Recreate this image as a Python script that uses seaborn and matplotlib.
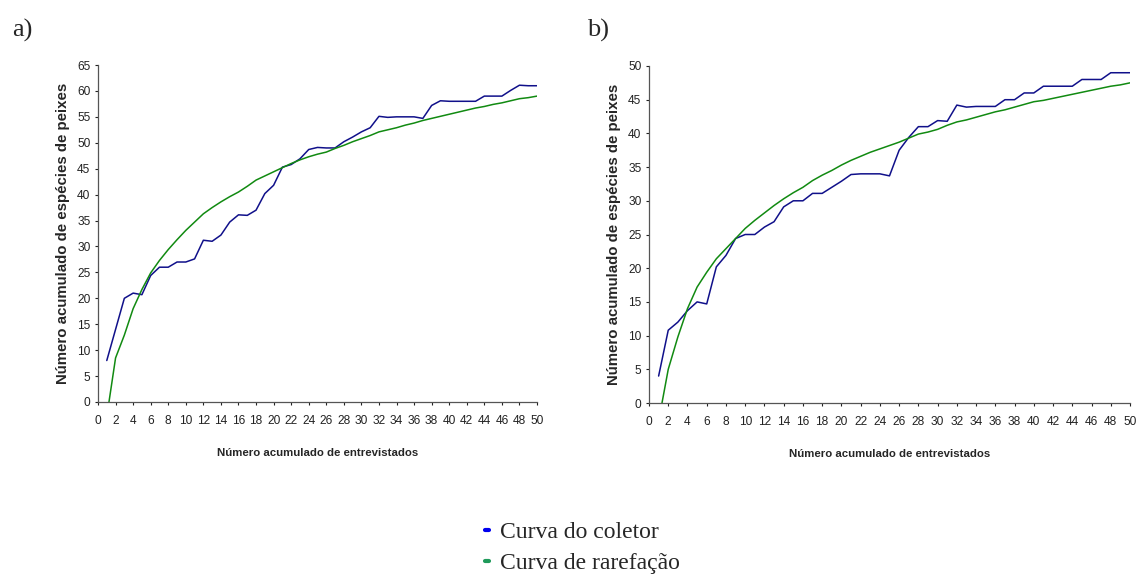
import numpy as np
import pandas as pd
import matplotlib
matplotlib.use("Agg")
import matplotlib.pyplot as plt
from matplotlib.lines import Line2D
import seaborn as sns

# Panel a) - species accumulation
a_x_coletor = list(range(1, 51))
a_coletor = [8, 14, 20, 21, 20.7, 24.4, 26, 26, 27, 27,
             27.6, 31.2, 31, 32.2, 34.7, 36.1, 36, 37, 40.2, 41.8,
             45.3, 45.8, 46.9, 48.7, 49.1, 49, 49, 50.2, 51.1, 52.1,
             52.9, 55.1, 54.9, 55, 55, 55, 54.7, 57.2, 58.1, 58,
             58, 58, 58, 59, 59, 59, 60.1, 61.1, 61, 61]
a_x_rarefacao = [1.25] + list(range(2, 51))
a_rarefacao = [0, 8.5, 12.9, 18, 21.7, 24.9, 27.3, 29.4, 31.3, 33.1,
               34.7, 36.3, 37.5, 38.6, 39.6, 40.5, 41.6, 42.8, 43.6, 44.4,
               45.2, 46, 46.7, 47.3, 47.8, 48.2, 48.9, 49.5, 50.2, 50.8,
               51.4, 52.1, 52.5, 52.9, 53.4, 53.8, 54.3, 54.7, 55.1, 55.5,
               55.9, 56.3, 56.7, 57, 57.4, 57.7, 58.1, 58.5, 58.7, 59]

# Panel b)
b_x_coletor = list(range(1, 51))
b_coletor = [4, 10.8, 12, 13.7, 15, 14.7, 20.2, 21.9, 24.4, 25,
             25, 26.1, 26.9, 29.1, 30, 30, 31.1, 31.1, 32, 32.9,
             33.9, 34, 34, 34, 33.7, 37.5, 39.4, 41, 41, 41.9,
             41.8, 44.2, 43.9, 44, 44, 44, 45, 45, 46, 46,
             47, 47, 47, 47, 48, 48, 48, 49, 49, 49]
b_x_rarefacao = [1.35] + list(range(2, 51))
b_rarefacao = [0, 5, 9.8, 14, 17.2, 19.4, 21.4, 22.9, 24.4, 25.9,
               27.1, 28.2, 29.3, 30.3, 31.2, 32, 33, 33.8, 34.5, 35.3,
               36, 36.6, 37.2, 37.7, 38.2, 38.7, 39.3, 39.9, 40.2, 40.6,
               41.2, 41.7, 42, 42.4, 42.8, 43.2, 43.5, 43.9, 44.3, 44.7,
               44.9, 45.2, 45.5, 45.8, 46.1, 46.4, 46.7, 47, 47.2, 47.5]

series_labels = ["Curva do coletor", "Curva de rarefação"]
panel_labels = ["a)", "b)"]
x_label = "Número acumulado de entrevistados"
y_label = "Número acumulado de espécies de peixes"
y_max = [65, 50]

COLOR_COLETOR = "#10108a"
COLOR_RAREF = "#118a11"

sns.set_style("ticks")
plt.rcParams["font.family"] = ["Liberation Sans", "DejaVu Sans"]

fig = plt.figure(figsize=(11.36, 5.76), dpi=100)
W, H = 1136, 576
ax_a = fig.add_axes([98 / W, (H - 402) / H, 439 / W, 337 / H])
ax_b = fig.add_axes([649 / W, (H - 403) / H, 481 / W, 337 / H])

panels = [
    (ax_a, a_x_coletor, a_coletor, a_x_rarefacao, a_rarefacao, y_max[0], 439),
    (ax_b, b_x_coletor, b_coletor, b_x_rarefacao, b_rarefacao, y_max[1], 481),
]

for ax, xc, yc, xr, yr, ymax, width_px in panels:
    df_c = pd.DataFrame({"x": xc, "y": yc})
    df_r = pd.DataFrame({"x": xr, "y": yr})
    sns.lineplot(data=df_c, x="x", y="y", ax=ax, color=COLOR_COLETOR, lw=1.1)
    sns.lineplot(data=df_r, x="x", y="y", ax=ax, color=COLOR_RAREF, lw=1.1)
    ax.set_xlim(0, 50)
    ax.set_ylim(0, ymax)
    ax.set_xticks(np.arange(0, 51, 2))
    ax.set_yticks(np.arange(0, ymax + 1, 5))
    ax.tick_params(axis="both", direction="out", length=2.5, width=0.8,
                   labelsize=8.6, colors="#222222")
    ax.tick_params(axis="x", pad=7)
    ax.tick_params(axis="y", pad=3)
    for s in ("top", "right"):
        ax.spines[s].set_visible(False)
    for s in ("left", "bottom"):
        ax.spines[s].set_color("#555555")
        ax.spines[s].set_linewidth(0.9)
    ax.set_xlabel(x_label, fontsize=8.2, fontweight="bold")
    ax.set_ylabel(y_label, fontsize=10.8, fontweight="bold")
    ax.xaxis.set_label_coords(0.5, -46 / 337)
    ax.yaxis.set_label_coords(-35 / width_px, 0.5)
    ax.yaxis.label.set_va("center")

fig.text(12 / W, 1 - 30 / H, panel_labels[0], fontsize=19,
         family="Liberation Serif", va="center", ha="left")
fig.text(587 / W, 1 - 30 / H, panel_labels[1], fontsize=19,
         family="Liberation Serif", va="center", ha="left")

handles = [Line2D([0], [0], color="#0000ee", lw=3),
           Line2D([0], [0], color="#1f9a5a", lw=3)]
fig.legend(handles, series_labels, loc="center",
           bbox_to_anchor=(0.5 + 14 / W, 1 - 548 / H),
           frameon=False, handlelength=0.18, handletextpad=0.45, labelspacing=0.42,
           prop={"family": "Liberation Serif", "size": 17})

fig.savefig("out.png", dpi=100)
